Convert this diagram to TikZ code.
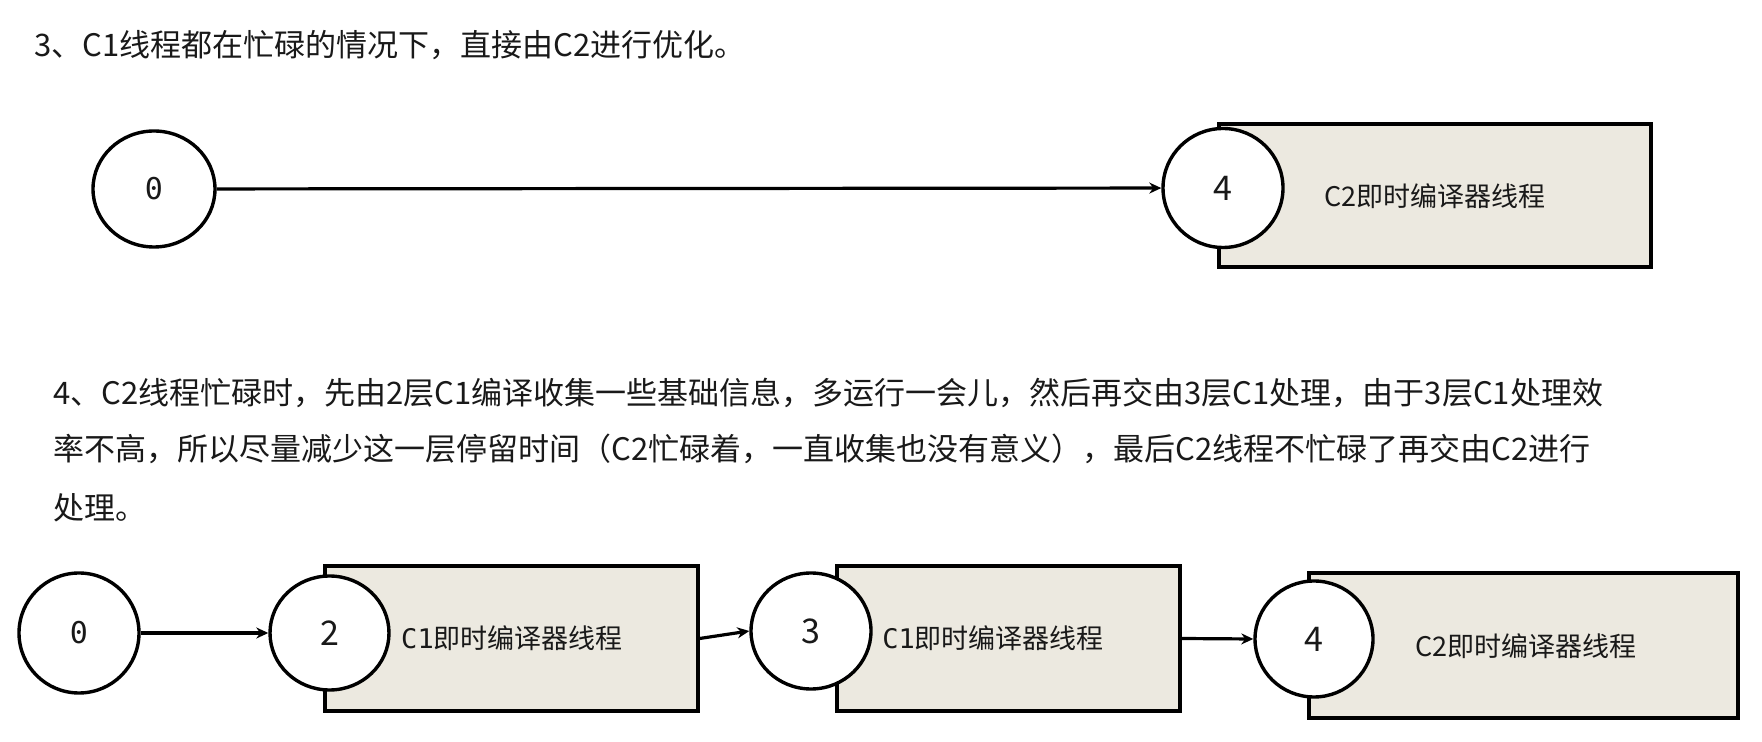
\documentclass[tikz,border=0pt]{standalone}
\usepackage{fontspec}
\setmainfont{Noto Sans CJK SC}
\newfontfamily\cjk{Noto Sans CJK SC}
\newfontfamily\monof{DejaVu Sans Mono}
\usetikzlibrary{shapes.geometric,arrows.meta}
\definecolor{boxfill}{RGB}{236,233,224}
\definecolor{txt}{RGB}{25,25,25}
\begin{document}
\begin{tikzpicture}[x=0.5pt,y=-0.5pt,
  state/.style={ellipse,draw=black,line width=1.7pt,fill=white,inner sep=0pt},
  thread/.style={rectangle,draw=black,line width=1.6pt,fill=boxfill,inner sep=0pt},
  arr/.style={line width=1.6pt,-{Stealth[length=6pt,width=5.5pt]}},
  para/.style={anchor=west,inner sep=0pt,text=txt,font=\cjk\fontsize{15.5pt}{18pt}\selectfont},
  boxtext/.style={inner sep=0pt,text=txt,font=\cjk\fontsize{13.5pt}{16pt}\selectfont},
  num/.style={text=txt,font=\cjk\fontsize{17pt}{19pt}\selectfont},
  zero/.style={text=txt,font=\monof\fontsize{15pt}{17pt}\selectfont}]
\useasboundingbox[fill=white] (0,0) rectangle (1762,742);

% Section 3
\node[para] (t3) at (34,45) {3、C1线程都在忙碌的情况下，直接由C2进行优化。};

\node[thread,minimum width=216pt,minimum height=71.5pt] (r0) at (1435,195.5) {};
\node[boxtext] (r0t) at (1435,196) {C2即时编译器线程};
\node[state,minimum width=61pt,minimum height=58pt] (a0) at (154,189) {};
\node[zero] at (a0) {0};
\node[state,minimum width=60pt,minimum height=59.5pt] (a4) at (1223,188) {};
\node[num] at (a4) {4};
\draw[arr] (a0) -- (a4);

% Section 4
\node[para] (p1) at (53,393) {4、C2线程忙碌时，先由2层C1编译收集一些基础信息，多运行一会儿，然后再交由3层C1处理，由于3层C1处理效};
\node[para] (p2) at (53,449) {率不高，所以尽量减少这一层停留时间（C2忙碌着，一直收集也没有意义），最后C2线程不忙碌了再交由C2进行};
\node[para] (p3) at (53,508) {处理。};

\node[thread,minimum width=186.5pt,minimum height=72.5pt] (r1) at (511.5,638.5) {};
\node[boxtext] (r1t) at (512,638) {{\monof C1}即时编译器线程};
\node[thread,minimum width=171.5pt,minimum height=72.5pt] (r2) at (1008.5,638.5) {};
\node[boxtext] (r2t) at (993,638) {{\monof C1}即时编译器线程};
\node[thread,minimum width=214.5pt,minimum height=72.5pt] (r3) at (1523.5,645.5) {};
\node[boxtext] (r3t) at (1526,646) {C2即时编译器线程};

\node[state,minimum width=60pt,minimum height=60pt] (b0) at (79,633) {};
\node[zero] at (b0) {0};
\node[state,minimum width=59.5pt,minimum height=57pt] (b2) at (329.5,633) {};
\node[num] at (b2) {2};
\node[state,minimum width=60pt,minimum height=58pt] (b3) at (811,631) {};
\node[num] at (b3) {3};
\node[state,minimum width=59pt,minimum height=58pt] (b4) at (1314,639) {};
\node[num] at (b4) {4};

\draw[arr] (b0) -- (b2);
\draw[arr] (r1.east) -- (b3.west);
\draw[arr] (r2.east) -- (b4.west);
\end{tikzpicture}
\end{document}
